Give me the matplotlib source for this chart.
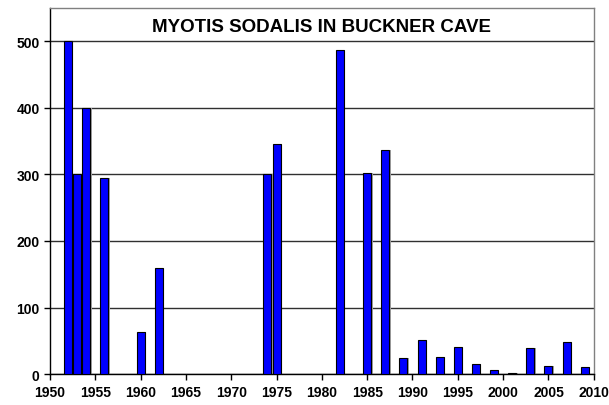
import matplotlib
matplotlib.use('Agg')
import numpy as np
import matplotlib.pyplot as plt

# survey years and counts of Myotis sodalis
years = [1952, 1953, 1954, 1956, 1960, 1962, 1974, 1975, 1982, 1985, 1987,
         1989, 1991, 1993, 1995, 1997, 1999, 2001, 2003, 2005, 2007, 2009]
counts = [500, 300, 400, 295, 63, 160, 300, 345, 487, 302, 336,
          24, 51, 25, 41, 15, 6, 2, 40, 12, 49, 10]

x_ticks = np.arange(1950, 2011, 5)
y_ticks = [0, 100, 200, 300, 400, 500]

plt.rcParams['font.family'] = ['Liberation Sans', 'DejaVu Sans']
plt.rcParams['font.weight'] = 'bold'

fig = plt.figure(figsize=(6.09, 4.06), dpi=100)
ax = fig.add_axes([0.082, 0.076, 0.893, 0.902])

# shadow behind bars, like the spreadsheet original
ax.bar(np.array(years) + 0.15, counts, width=0.88, color='#a0a0a0',
       zorder=2, linewidth=0)
ax.bar(years, counts, width=0.88, color='#0000ff', edgecolor='black',
       linewidth=0.8, zorder=3)

ax.set_xlim(1950, 2010)
ax.set_ylim(0, 550)
ax.set_xticks(x_ticks)
ax.set_yticks(y_ticks)
ax.tick_params(axis='both', labelsize=10, length=4, width=1, direction='out')
ax.tick_params(axis='x', pad=4)
for lab in ax.get_xticklabels() + ax.get_yticklabels():
    lab.set_fontweight('bold')

ax.yaxis.grid(True, color='#303030', linewidth=1, zorder=1)
ax.set_axisbelow(True)

ax.spines['left'].set_color('black')
ax.spines['bottom'].set_color('black')
ax.spines['top'].set_color('#808080')
ax.spines['right'].set_color('#808080')
for s in ax.spines.values():
    s.set_linewidth(1)

ax.text(0.5, 0.949, 'MYOTIS SODALIS IN BUCKNER CAVE', transform=ax.transAxes,
        ha='center', va='center', fontsize=13.5, fontweight='bold')

plt.savefig('out.png', dpi=100)
